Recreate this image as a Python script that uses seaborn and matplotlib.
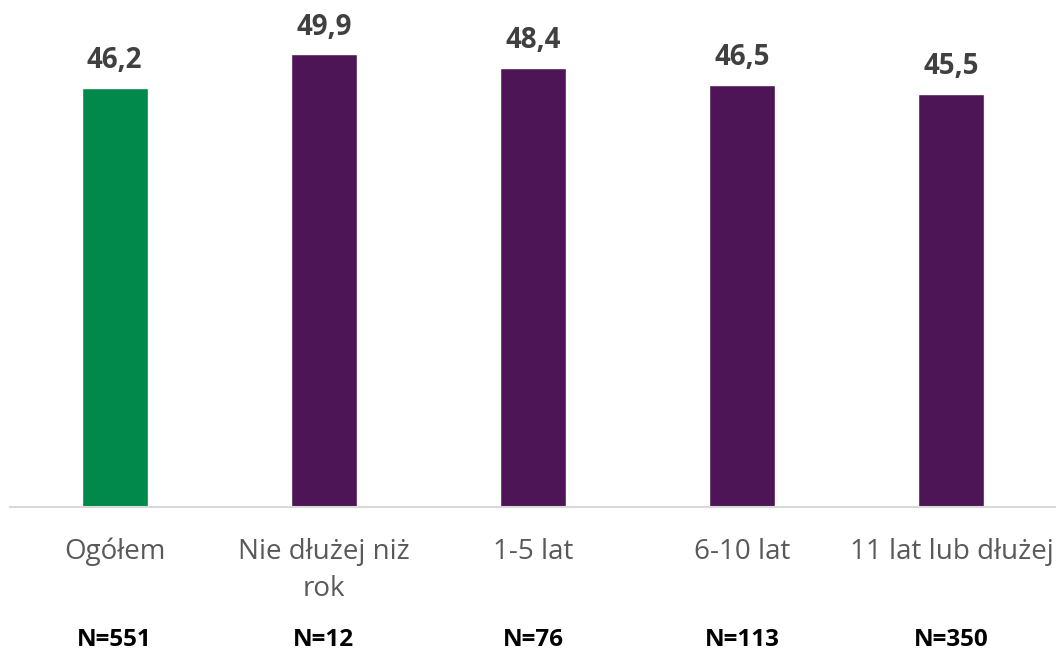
import numpy as np
import matplotlib.pyplot as plt
import seaborn as sns
import pandas as pd
from matplotlib.transforms import blended_transform_factory

# Data
categories = ["Ogółem", "Nie dłużej niż\nrok", "1-5 lat", "6-10 lat", "11 lat lub dłużej"]
values = [46.2, 49.9, 48.4, 46.5, 45.5]
sample_sizes = [551, 12, 76, 113, 350]
bar_colors = ["#00894A", "#4E1556", "#4E1556", "#4E1556", "#4E1556"]

sns.set_theme(style="white")
plt.rcParams['font.family'] = ['Open Sans', 'DejaVu Sans']

df = pd.DataFrame({'kategoria': categories, 'wartosc': values})

fig = plt.figure(figsize=(10.56, 6.51), dpi=100)
ax = fig.add_axes([10 / 1056, 144 / 651, 1 - 10 / 1056, 507 / 651])

sns.barplot(data=df, x='kategoria', y='wartosc', hue='kategoria',
            palette=bar_colors, width=0.316, legend=False, ax=ax, saturation=1)

# Value labels
for container in ax.containers:
    ax.bar_label(container,
                 labels=[f"{v:.1f}".replace('.', ',') for v in container.datavalues],
                 padding=9, fontsize=20, fontweight='bold', color='#404040')

ax.set_xlim(-0.5, 4.5)
ax.set_ylim(0, 55.85)
ax.set_yticks([])
ax.set_xlabel('')
ax.set_ylabel('')

sns.despine(ax=ax, left=True)
ax.spines['bottom'].set_color('#D9D9D9')
ax.spines['bottom'].set_linewidth(1.5)
ax.tick_params(axis='x', length=0, pad=22, labelsize=20, labelcolor='#595959')
for lbl in ax.get_xticklabels():
    lbl.set_linespacing(1.45)

# Sample sizes below the category labels
trans = blended_transform_factory(ax.transData, fig.transFigure)
for i, n in enumerate(sample_sizes):
    ax.text(i, 11 / 651, f"N={n}", transform=trans, ha='center', va='center',
            fontsize=17.5, fontweight='bold', color='#000000')

fig.savefig('out.png', dpi=100)
